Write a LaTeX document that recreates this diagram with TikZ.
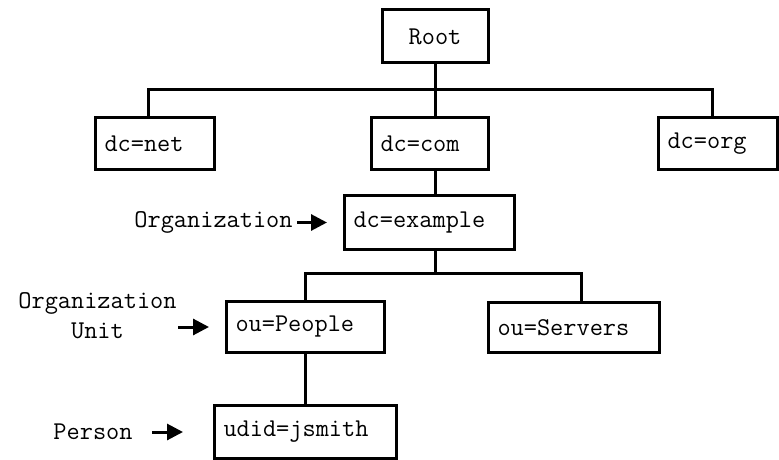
\documentclass[tikz,border=0pt]{standalone}
\usepackage{fontspec}
\usepackage{tikz}
\usetikzlibrary{arrows.meta,positioning,calc}
\newcommand{\dirfont}{\ttfamily\fontsize{12.8}{15}\selectfont}
\tikzset{
    entry/.style={rectangle, draw, line width=1.5pt, anchor=north west, align=left, inner xsep=4.5pt, inner ysep=0pt, minimum height=26pt, font=\dirfont},
    rootbox/.style={rectangle, draw, line width=1.5pt, minimum width=53pt, minimum height=26.5pt, inner sep=0pt, font=\dirfont},
    note/.style={inner sep=0pt, align=center, font=\dirfont},
    link/.style={draw, line width=1.5pt},
    pointer/.style={draw, line width=1.5pt, -{Triangle[length=8pt,width=8pt]}}
}
\begin{document}
\begin{tikzpicture}[x=0.5pt, y=-0.5pt]
    \useasboundingbox (0,0) rectangle (779,459);
    \node [rootbox] (root) at (435,36.5) {Root};
    \node [entry, text width=50.5pt] (net) at (94,116) {dc=net};
    \node [entry, text width=49.5pt] (com) at (370,116) {dc=com};
    \node [entry, text width=50.5pt] (org) at (657,116) {dc=org};
    \node [entry, text width=76pt, minimum height=27pt] (example) at (343,194) {dc=example};
    \node [entry, text width=70pt, minimum height=25.5pt] (people) at (225,300) {ou=People};
    \node [entry, text width=76.5pt, minimum height=25pt] (servers) at (487,301) {ou=Servers};
    \node [entry, text width=82pt, minimum height=26.5pt] (udid) at (213,404) {udid=jsmith};

    % Junctions of the tree
    \coordinate (bar1) at (435,90);
    \coordinate (bar2) at (435,273);

    % Tree lines
    \draw [link] (root.south) -- (bar1);
    \draw [link] (bar1) -| ([xshift=-3.25pt]net.north);
    \draw [link] (bar1) -| ([xshift=-2.75pt]org.north);
    \draw [link] (bar1) -- (bar1 |- com.north);
    \draw [link] (bar1 |- com.south) -- (bar1 |- example.north);
    \draw [link] (bar1 |- example.south) -- (bar2);
    \draw [link] (bar2) -| (people.north);
    \draw [link] (bar2) -| ([xshift=3.75pt]servers.north);
    \draw [link] (people.south) -- (udid.north);

    % Level labels
    \node [note, left=25pt of example] (orglbl) {Organization};
    \node [note, left=24pt of people, yshift=5.5pt] (oulbl) {Organization\\Unit};
    \node [note, left=40pt of udid] (personlbl) {Person};
    \draw [pointer, shorten <=2pt, shorten >=8pt] (orglbl.east) -- (example.west);
    \draw [pointer, shorten <=0.5pt, shorten >=8pt] (oulbl.east |- people.west) -- (people.west);
    \draw [pointer, shorten <=9.5pt, shorten >=15pt] (personlbl.east) -- (udid.west);
\end{tikzpicture}
\end{document}
